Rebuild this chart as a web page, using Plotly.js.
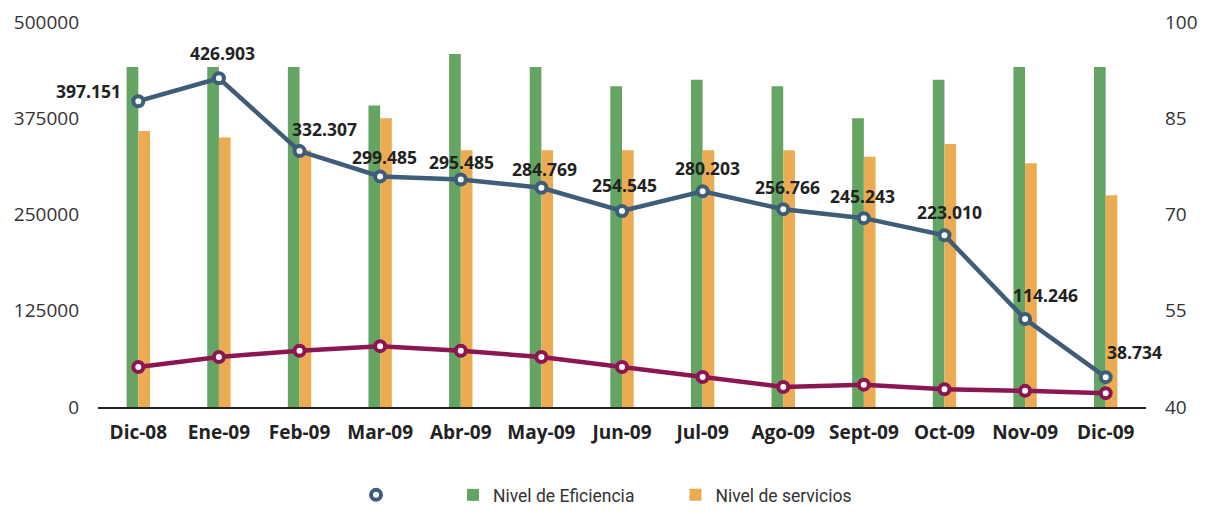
<!DOCTYPE html>
<html>
<head>
<meta charset="utf-8">
<script src="https://cdn.plot.ly/plotly-3.0.1.min.js"></script>
<style>html,body{margin:0;padding:0;background:#fff;}#chart{width:1207px;height:514px;}</style>
</head>
<body>
<div id="chart"></div>
<script>
// ---- data ----
var categories = ['Dic-08','Ene-09','Feb-09','Mar-09','Abr-09','May-09','Jun-09','Jul-09','Ago-09','Sept-09','Oct-09','Nov-09','Dic-09'];
var volumen = [397151, 426903, 332307, 299485, 295485, 284769, 254545, 280203, 256766, 245243, 223010, 114246, 38734];
var volumenLabels = ['397.151','426.903','332.307','299.485','295.485','284.769','254.545','280.203','256.766','245.243','223.010','114.246','38.734'];
var serieGranate = [52000, 65000, 73000, 79000, 73000, 65000, 52000, 39000, 26000, 29000, 23000, 21000, 18000];
var eficiencia = [93, 93, 93, 87, 95, 93, 90, 91, 90, 85, 91, 93, 93];
var servicios = [83, 82, 80, 85, 80, 80, 80, 80, 80, 79, 81, 78, 73];
var leftTicks = [0, 125000, 250000, 375000, 500000];
var rightTicks = [40, 55, 70, 85, 100];

// ---- styling ----
var BLUE = '#3e5d78', PURPLE = '#8c1652', GREEN = '#65a563', ORANGE = '#ebab52';
var labelDx = [-50, 4, 25, 4, 1, 3, 2, 5, 4, -1, 5, 20, 29];
var labelDy = [10, 25, 22, 19, 17, 19, 26, 23, 22, 22, 23, 24, 25];

var traces = [
  {type:'bar', x:categories, y:eficiencia, yaxis:'y', name:'Nivel de Eficiencia',
   marker:{color:GREEN}, legend:'legend2', hoverinfo:'skip'},
  {type:'bar', x:categories, y:servicios, yaxis:'y', name:'Nivel de servicios',
   marker:{color:ORANGE}, legend:'legend3', hoverinfo:'skip'},
  {type:'scatter', mode:'lines+markers', x:categories, y:serieGranate, yaxis:'y2', showlegend:false,
   line:{color:PURPLE, width:4.5},
   marker:{symbol:'circle', size:10, color:'#ffffff', line:{color:PURPLE, width:4}}},
  {type:'scatter', mode:'lines', x:categories, y:volumen, yaxis:'y2', showlegend:false,
   line:{color:BLUE, width:4.5}},
  {type:'scatter', mode:'markers', x:categories, y:volumen, yaxis:'y2', name:' ', legend:'legend',
   marker:{symbol:'circle', size:10, color:'#ffffff', line:{color:BLUE, width:4}}}
];

var annotations = categories.map(function(c, i){
  return {x:c, y:volumen[i], xref:'x', yref:'y2', text:volumenLabels[i], showarrow:false,
    xanchor:'center', yanchor:'middle', xshift:labelDx[i], yshift:labelDy[i],
    font:{family:'Open Sans, sans-serif', size:17.5, color:'#222', weight:'bold'}};
});

var legFont = {family:'Roboto, sans-serif', size:17.5, color:'#333'};
var legY = 0.037;
function leg(x){ return {orientation:'h', xref:'container', yref:'container', x:x, xanchor:'left',
  y:legY, yanchor:'middle', font:legFont, bgcolor:'rgba(0,0,0,0)'}; }
var layout = {
  width:1207, height:514,
  margin:{l:98, r:61, t:22, b:107, pad:0, autoexpand:false},
  paper_bgcolor:'#ffffff', plot_bgcolor:'#ffffff',
  barmode:'group', bargap:0.71, bargroupgap:0,
  showlegend:true,
  font:{family:'Open Sans, sans-serif', color:'#333'},
  xaxis:{type:'category', range:[-0.5, 12.5], showgrid:false, zeroline:false, showline:true, linecolor:'#222', linewidth:1.5,
    ticks:'', tickfont:{family:'Open Sans, sans-serif', size:19, color:'#222', weight:'bold'}, ticklabelstandoff:8},
  yaxis:{range:[40,100], tickvals:rightTicks, ticktext:rightTicks.map(String), side:'right',
    showgrid:false, zeroline:false, showline:false, ticks:'', tickfont:{size:19, color:'#333'}, ticklabelstandoff:18},
  yaxis2:{range:[0,500000], tickvals:leftTicks, ticktext:leftTicks.map(String), overlaying:'y', side:'left',
    showgrid:false, zeroline:false, showline:false, ticks:'', tickfont:{size:19, color:'#333'}, ticklabelstandoff:18},
  legend:leg(0.295),
  legend2:leg(0.3753),
  legend3:leg(0.5596),
  annotations:annotations
};

Plotly.newPlot('chart', traces, layout, {staticPlot:true, displayModeBar:false});
</script>
</body>
</html>
